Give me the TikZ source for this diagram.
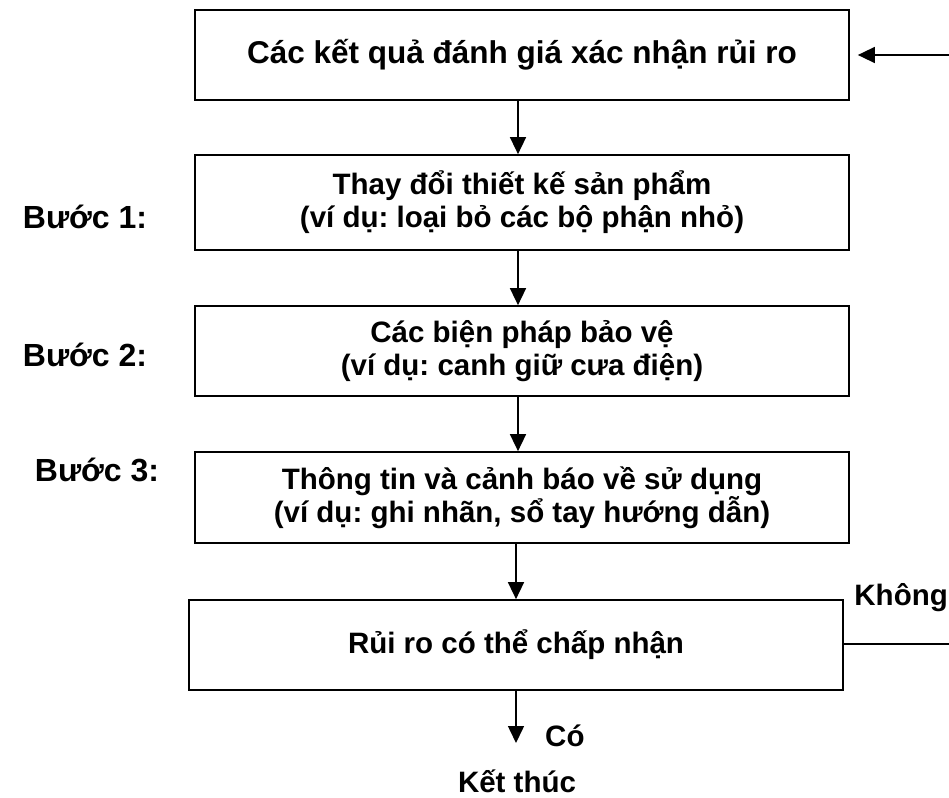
\documentclass[tikz,border=0pt]{standalone}
\usepackage{fontspec}
\setmainfont{Liberation Sans}
\frenchspacing
\usetikzlibrary{arrows.meta}
\begin{document}
\begin{tikzpicture}[x=1pt,y=-1pt,
  box/.style={draw, line width=1.7pt, minimum width=654pt, inner sep=0pt, align=center, font=\fontsize{29.5}{33}\selectfont\bfseries},
  lbl/.style={font=\fontsize{29.5}{34}\selectfont\bfseries, inner sep=0pt},
  arr/.style={line width=1.5pt, -{Triangle[width=16pt,length=17pt]}},
  ln/.style={line width=1.5pt}]
\useasboundingbox (0,0) rectangle (949,797);
\node[box, minimum height=90pt, font=\fontsize{31.5}{36}\selectfont\bfseries] (b1) at (522,55) {Các kết quả đánh giá xác nhận rủi ro};
\node[box, minimum height=95pt] (b2) at (522,202.5) {Thay đổi thiết kế sản phẩm\\(ví dụ: loại bỏ các bộ phận nhỏ)};
\node[box, minimum height=90pt] (b3) at (522,351) {Các biện pháp bảo vệ\\(ví dụ: canh giữ cưa điện)};
\node[box, minimum height=91pt] (b4) at (522,497.5) {Thông tin và cảnh báo về sử dụng\\(ví dụ: ghi nhãn, sổ tay hướng dẫn)};
\node[box, minimum height=90pt] (b5) at (516,645) {Rủi ro có thể chấp nhận};
\coordinate (ax) at (518,0);
\coordinate (fb) at (970,644);
\node[lbl, font=\fontsize{32}{36}\selectfont\bfseries] (s1) at (85,217) {Bước 1:};
\node[lbl, font=\fontsize{32}{36}\selectfont\bfseries] (s2) at (85,355) {Bước 2:};
\node[lbl, font=\fontsize{32}{36}\selectfont\bfseries] (s3) at (97,470) {Bước 3:};
\node[lbl, anchor=east] (kh) at (948,598) {Không};
\node[lbl, anchor=west] (co) at (545,736) {Có};
\node[lbl] (kt) at (517,781) {Kết thúc};
\coordinate (e5) at (516,743);
\draw[arr] (b1.south -| ax) -- (b2.north -| ax);
\draw[arr] (b2.south -| ax) -- (b3.north -| ax);
\draw[arr] (b3.south -| ax) -- (b4.north -| ax);
\draw[arr] (b4.south -| b5) -- (b5.north);
\draw[arr] (b5.south) -- (e5);
\draw[ln] (b5.east |- fb) -- (fb);
\draw[arr, shorten >=8pt] (fb |- b1.east) -- (b1.east);
\end{tikzpicture}
\end{document}
